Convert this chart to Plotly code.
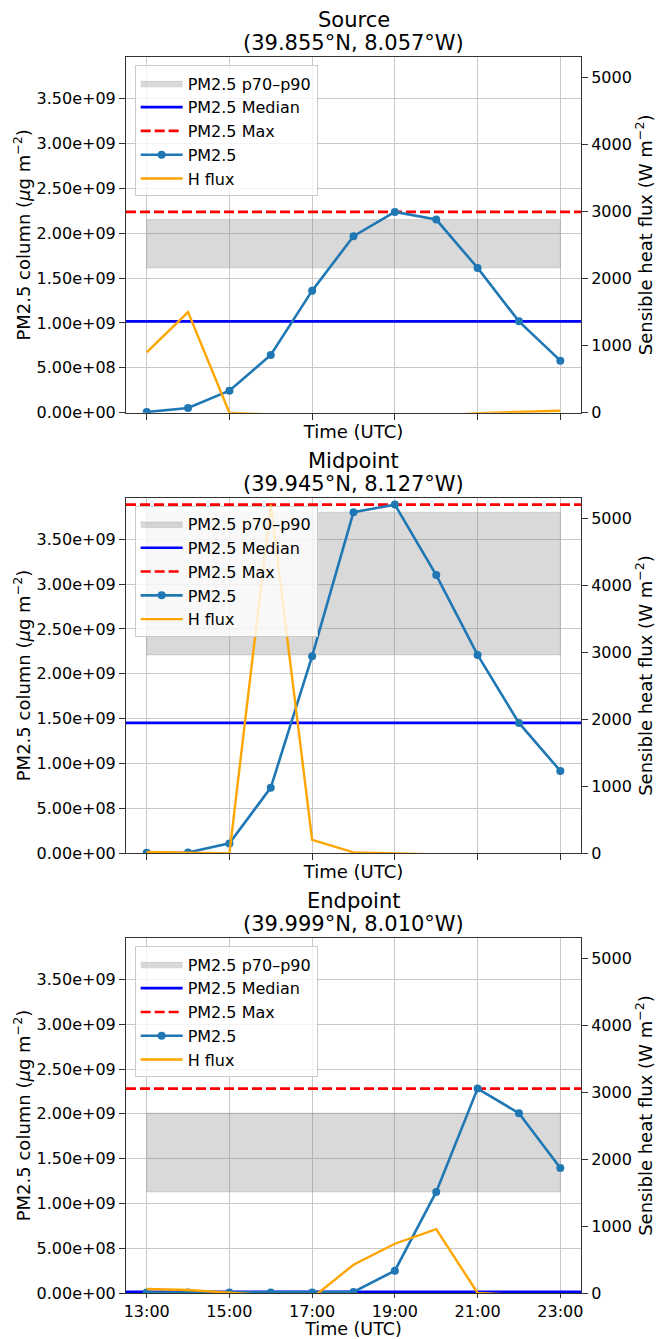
import numpy as np
import plotly.graph_objects as go

# Hourly axis (UTC)
HOURS = [13, 14, 15, 16, 17, 18, 19, 20, 21, 22, 23]
HOUR_TICKS = [13, 15, 17, 19, 21, 23]
HOUR_LABELS = ["13:00", "15:00", "17:00", "19:00", "21:00", "23:00"]

SITE_NAMES = ["Source", "Midpoint", "Endpoint"]
SITE_COORDS = ["(39.855°N, 8.057°W)", "(39.945°N, 8.127°W)", "(39.999°N, 8.010°W)"]

# PM2.5 column load (µg m-2)
SOURCE_PM = [0.007e9, 0.052e9, 0.245e9, 0.643e9, 1.360e9, 1.966e9,
             2.237e9, 2.152e9, 1.613e9, 1.018e9, 0.580e9]
MIDPOINT_PM = [0.007e9, 0.010e9, 0.111e9, 0.732e9, 2.196e9, 3.800e9,
               3.885e9, 3.100e9, 2.211e9, 1.453e9, 0.918e9]
ENDPOINT_PM = [0.005e9, 0.005e9, 0.005e9, 0.005e9, 0.005e9, 0.012e9,
               0.249e9, 1.128e9, 2.282e9, 2.007e9, 1.396e9]

# Sensible heat flux (W m-2)
SOURCE_HFLUX = [900, 1500, 0, -30, -60, -80, -70, -50, -6, 15, 30]
MIDPOINT_HFLUX = [20, 10, 0, 5200, 200, 15, 0, -20, -30, -30, -20]
ENDPOINT_HFLUX = [60, 45, 5, -40, -75, 423, 736, 955, 0, -30, -30]

PM_TICKS = [0.0, 0.5e9, 1.0e9, 1.5e9, 2.0e9, 2.5e9, 3.0e9, 3.5e9]
HFLUX_TICKS = [0, 1000, 2000, 3000, 4000, 5000]

PM_SERIES = [SOURCE_PM, MIDPOINT_PM, ENDPOINT_PM]
HFLUX_SERIES = [SOURCE_HFLUX, MIDPOINT_HFLUX, ENDPOINT_HFLUX]

FONT = "DejaVu Sans"
X_RANGE = [12.5, 23.5]
PM_TOP = 1.02 * max(max(s) for s in PM_SERIES)
HFLUX_TOP = 1.02 * max(max(s) for s in HFLUX_SERIES)

# vertical extent of each panel (paper fraction)
DOMAINS = [[0.7122, 1.0], [0.3557, 0.6435], [0.0, 0.2872]]

AXIS_COLOR = "#333333"
GRID_COLOR = "#c8c8c8"

fig = go.Figure()
layout = {}
annotations = []

for i in range(3):
    pm = np.array(PM_SERIES[i])
    hf = HFLUX_SERIES[i]
    p70, p90 = np.percentile(pm, [70, 90])
    med = float(np.median(pm))
    pmax = float(pm.max())

    xa = "x" if i == 0 else f"x{i + 1}"
    yl = f"y{2 * i + 1}" if i > 0 else "y"
    yr = f"y{2 * i + 2}"
    leg = "legend" if i == 0 else f"legend{i + 1}"
    bottom = i == 2

    h0, h1 = HOURS[0], HOURS[-1]
    fig.add_trace(go.Scatter(
        x=[h0, h1, h1, h0, h0], y=[p70, p70, p90, p90, p70],
        fill="toself", fillcolor="rgba(128,128,128,0.3)",
        line=dict(color="rgba(128,128,128,0.3)", width=0.8),
        mode="lines", name="PM2.5 p70–p90", legend=leg,
        xaxis=xa, yaxis=yl, hoverinfo="skip"))
    fig.add_trace(go.Scatter(
        x=X_RANGE, y=[med, med], mode="lines",
        line=dict(color="#0000ff", width=2.6),
        name="PM2.5 Median", legend=leg, xaxis=xa, yaxis=yl))
    fig.add_trace(go.Scatter(
        x=X_RANGE, y=[pmax, pmax], mode="lines",
        line=dict(color="#ff0000", width=2.6, dash="10px,4px"),
        name="PM2.5 Max", legend=leg, xaxis=xa, yaxis=yl))
    fig.add_trace(go.Scatter(
        x=HOURS, y=PM_SERIES[i], mode="lines+markers",
        line=dict(color="#1f77b4", width=2.6),
        marker=dict(color="#1f77b4", size=8),
        name="PM2.5", legend=leg, xaxis=xa, yaxis=yl))
    fig.add_trace(go.Scatter(
        x=HOURS, y=hf, mode="lines",
        line=dict(color="#ffa500", width=2.4),
        name="H flux", legend=leg, xaxis=xa, yaxis=yr))

    xkey = "xaxis" if i == 0 else f"xaxis{i + 1}"
    ylkey = "yaxis" if i == 0 else f"yaxis{2 * i + 1}"
    yrkey = f"yaxis{2 * i + 2}"

    layout[xkey] = dict(
        domain=[0, 1], anchor=yl, range=X_RANGE, automargin=False,
        tickvals=HOUR_TICKS, ticktext=HOUR_LABELS,
        showticklabels=bottom, ticks="outside", ticklen=(4 if bottom else 6),
        tickcolor=AXIS_COLOR, showline=True, linecolor=AXIS_COLOR,
        linewidth=1, mirror=True, showgrid=True, gridcolor=GRID_COLOR,
        gridwidth=1.2, zeroline=False,
        tickfont=dict(size=16, family=FONT, color="black"),
        title=dict(text="Time (UTC)",
                   font=dict(size=(17.5 if bottom else 18), family=FONT, color="black"),
                   standoff=(2 if bottom else 6)),
    )
    layout[ylkey] = dict(
        domain=DOMAINS[i], anchor=xa, range=[0, PM_TOP], automargin=False,
        tickvals=PM_TICKS, ticktext=[f"{v:.2e}" for v in PM_TICKS],
        ticks="outside", ticklen=6, tickcolor=AXIS_COLOR,
        showline=True, linecolor=AXIS_COLOR, linewidth=1,
        showgrid=True, gridcolor=GRID_COLOR, gridwidth=1.2, zeroline=False,
        tickfont=dict(size=16, family=FONT, color="black"),
        title=dict(text="PM2.5 column (<i>μ</i>g m<sup>−2</sup>)",
                   font=dict(size=18, family=FONT, color="black"), standoff=1),
    )
    layout[yrkey] = dict(
        overlaying=yl, side="right", anchor=xa, range=[0, HFLUX_TOP],
        automargin=False,
        tickvals=HFLUX_TICKS, ticks="outside", ticklen=6, tickcolor=AXIS_COLOR,
        showline=True, linecolor=AXIS_COLOR, linewidth=1,
        showgrid=False, zeroline=False,
        tickfont=dict(size=16, family=FONT, color="black"),
        title=dict(text="Sensible heat flux (W m<sup>−2</sup>)",
                   font=dict(size=18, family=FONT, color="black"), standoff=16),
    )
    layout[leg] = dict(
        x=0.019, xanchor="left", y=DOMAINS[i][1] - 0.0068, yanchor="top",
        bgcolor="rgba(255,255,255,0.8)", bordercolor="#cccccc", borderwidth=1,
        font=dict(size=16, family=FONT, color="black"),
        tracegroupgap=0, itemwidth=42,
    )
    # two-line panel heading
    annotations.append(dict(
        text=SITE_COORDS[i],
        x=0.5, xref="paper", y=DOMAINS[i][1], yref="paper",
        xanchor="center", yanchor="bottom", yshift=0, showarrow=False,
        font=dict(size=21, family=FONT, color="black"),
    ))
    annotations.append(dict(
        text=SITE_NAMES[i],
        x=0.5, xref="paper", y=DOMAINS[i][1], yref="paper",
        xanchor="center", yanchor="bottom", yshift=23, showarrow=False,
        font=dict(size=21, family=FONT, color="black"),
    ))

fig.update_layout(
    width=656, height=1339,
    margin=dict(l=126, r=75, t=57, b=46),
    paper_bgcolor="white", plot_bgcolor="white",
    font=dict(family=FONT, color="black"),
    annotations=annotations,
    showlegend=True,
    **layout,
)

fig.write_html("out.html")
